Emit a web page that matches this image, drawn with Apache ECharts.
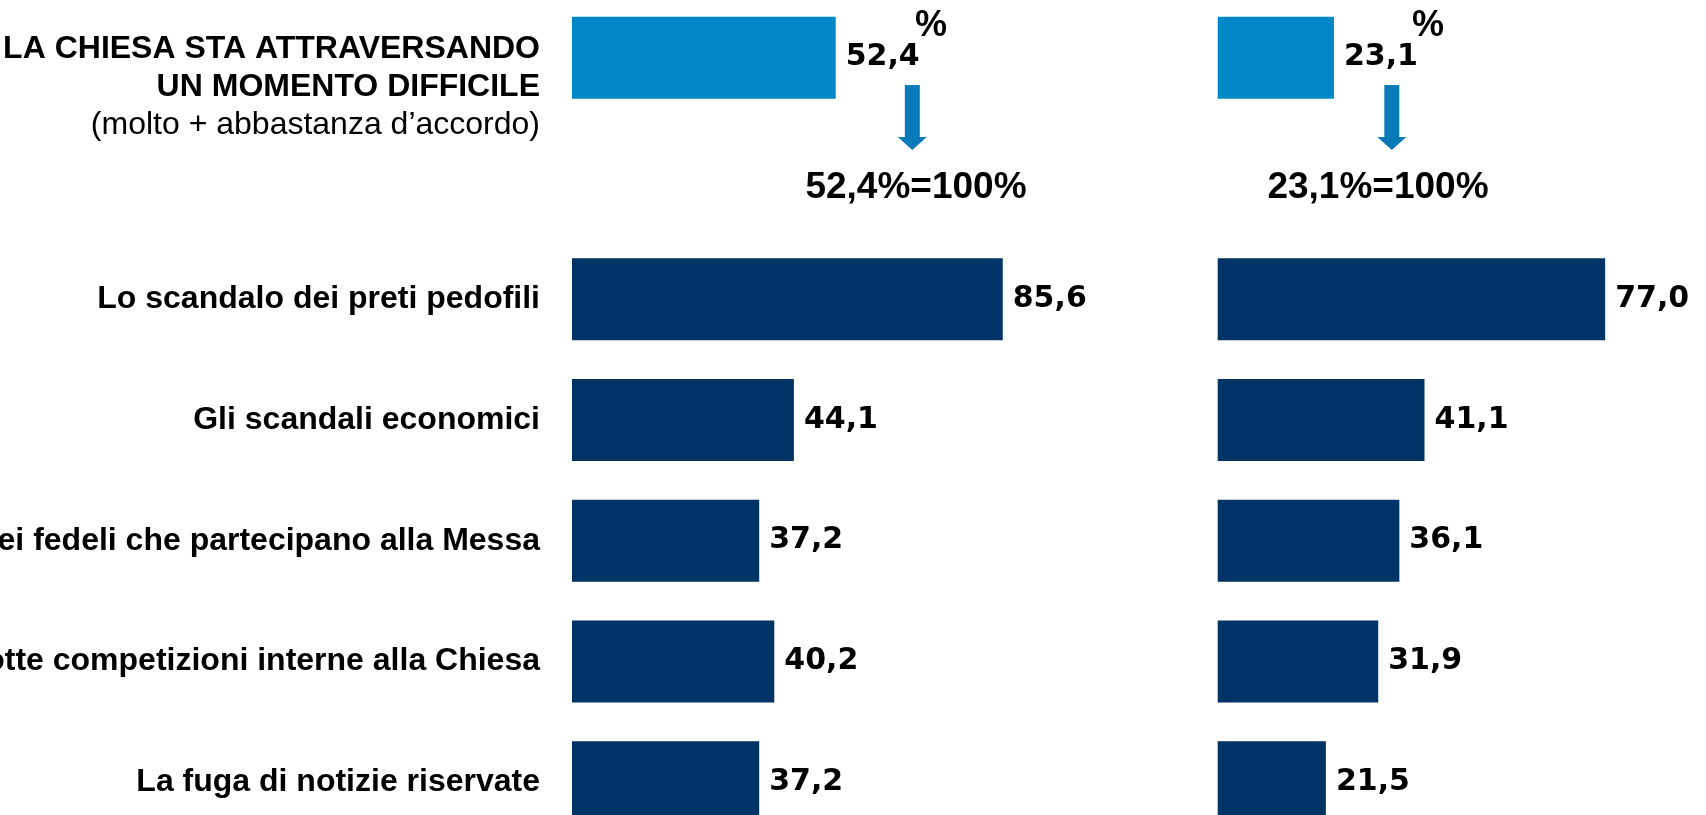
<!DOCTYPE html>
<html>
<head>
<meta charset="utf-8">
<script src="https://cdn.jsdelivr.net/npm/echarts@6/dist/echarts.min.js"></script>
<style>
  html, body { margin: 0; padding: 0; background: #fff; }
  #chiesa { width: 1706px; height: 815px; }
</style>
</head>
<body>
<div id="chiesa"></div>
<script>
  // dati
  const titleLines = ['LA CHIESA STA ATTRAVERSANDO', 'UN MOMENTO DIFFICILE', '(molto + abbastanza d’accordo)'];
  const categories = [
    'Lo scandalo dei preti pedofili',
    'Gli scandali economici',
    'Il calo dei fedeli che partecipano alla Messa',
    'Le lotte competizioni interne alla Chiesa',
    'La fuga di notizie riservate'
  ];
  const baseLeft = 52.4;
  const baseRight = 23.1;
  const valuesLeft = [85.6, 44.1, 37.2, 40.2, 37.2];
  const valuesRight = [77.0, 41.1, 36.1, 31.9, 21.5];

  const LIGHT = '#0087c8';
  const DARK = '#003366';
  const ARROW = '#0a7ab8';

  const rows = ['__title__', ''].concat(categories);

  function barData(base, vals) {
    return [{ value: base, itemStyle: { color: LIGHT } }, '-'].concat(vals);
  }

  function fmt(p) {
    return p.value.toFixed(1).replace('.', ',');
  }

  function arrow(cx) {
    return {
      type: 'polygon',
      shape: {
        points: [[cx - 7.5, 85], [cx + 7.5, 85], [cx + 7.5, 137], [cx + 14.5, 137],
                 [cx, 150], [cx - 14.5, 137], [cx - 7.5, 137]]
      },
      style: { fill: ARROW }
    };
  }

  function txt(x, y, text, size, align) {
    return {
      type: 'text',
      x: x, y: y,
      style: {
        text: text,
        fill: '#000',
        font: 'bold ' + size + 'px "Liberation Sans", Arial, sans-serif',
        align: align || 'center',
        verticalAlign: 'middle'
      }
    };
  }

  let chart = echarts.init(document.getElementById('chiesa'));
  window.addEventListener('resize', () => {
    chart.resize();
  });

  const gridTop = -2.7;
  const gridHeight = 845.25;
  const scaleWidth = 503.2;

  const valueLabel = {
    show: true,
    position: 'right',
    distance: 10,
    formatter: fmt,
    color: '#000',
    fontFamily: 'DejaVu Sans',
    fontWeight: 'bold',
    fontSize: 30
  };

  chart.setOption({
    animation: false,
    grid: [
      { left: 572, top: gridTop, width: scaleWidth, height: gridHeight, containLabel: false, outerBoundsMode: 'none' },
      { left: 1217.7, top: gridTop, width: scaleWidth, height: gridHeight, containLabel: false, outerBoundsMode: 'none' }
    ],
    xAxis: [
      { type: 'value', gridIndex: 0, min: 0, max: 100, show: false },
      { type: 'value', gridIndex: 1, min: 0, max: 100, show: false }
    ],
    yAxis: [
      {
        type: 'category',
        gridIndex: 0,
        inverse: true,
        data: rows,
        axisLine: { show: false },
        axisTick: { show: false },
        axisLabel: {
          interval: 0,
          margin: 32,
          align: 'right',
          formatter (val, idx) {
            if (idx === 0) {
              return '{g| }\n{b|' + titleLines[0] + '}\n{b|' + titleLines[1] + '}\n{r|' + titleLines[2] + '}';
            }
            return '{c|' + val + '}';
          },
          rich: {
            g: { fontSize: 10, lineHeight: 58 },
            b: { fontFamily: 'Liberation Sans', fontWeight: 'bold', fontSize: 32, lineHeight: 38, color: '#000', align: 'right' },
            r: { fontFamily: 'Liberation Sans', fontWeight: 'normal', fontSize: 32, lineHeight: 38, color: '#000', align: 'right' },
            c: { fontFamily: 'Liberation Sans', fontWeight: 'bold', fontSize: 32, color: '#000' }
          }
        }
      },
      {
        type: 'category',
        gridIndex: 1,
        inverse: true,
        data: rows,
        show: false
      }
    ],
    series: [
      {
        type: 'bar',
        xAxisIndex: 0,
        yAxisIndex: 0,
        barWidth: 82,
        itemStyle: { color: DARK },
        label: valueLabel,
        data: barData(baseLeft, valuesLeft)
      },
      {
        type: 'bar',
        xAxisIndex: 1,
        yAxisIndex: 1,
        barWidth: 82,
        itemStyle: { color: DARK },
        label: valueLabel,
        data: barData(baseRight, valuesRight)
      }
    ],
    graphic: [
      txt(915, 26, '%', 36, 'left'),
      txt(1412, 26, '%', 36, 'left'),
      arrow(912.3),
      arrow(1391.8),
      txt(916, 188, baseLeft.toFixed(1).replace('.', ',') + '%=100%', 37),
      txt(1378, 188, baseRight.toFixed(1).replace('.', ',') + '%=100%', 37)
    ]
  });
</script>
</body>
</html>
